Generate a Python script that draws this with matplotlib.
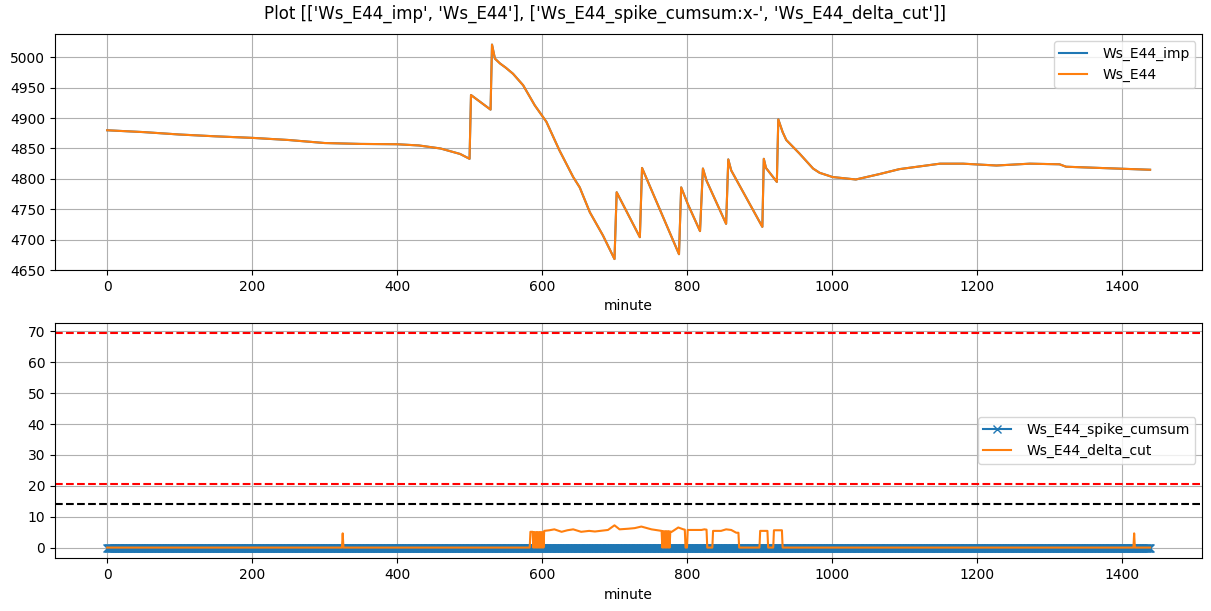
import numpy as np
import matplotlib
matplotlib.use("Agg")
import matplotlib.pyplot as plt

# top panel: Ws_E44 (imp and raw are identical on the plot)
ws_minute = [0, 50, 100, 150, 200, 250, 300, 350, 400, 430, 460, 487, 500,
             502, 529, 531, 535, 542, 550, 560, 574, 590, 606, 624, 643, 652, 666,
             684, 700, 703, 735, 738, 789, 792, 801, 818, 822, 827, 854, 857,
             861, 904, 906, 909, 924, 926, 932, 937, 955, 974, 983, 1001, 1033,
             1066, 1093, 1149, 1181, 1227, 1273, 1314, 1323, 1369, 1439]
ws_e44 = [4880, 4877, 4873, 4870, 4867.5, 4864, 4859, 4857.5, 4857, 4855, 4850,
          4841, 4833, 4938, 4914, 5021, 4998, 4990, 4983, 4973, 4954, 4921, 4894,
          4847, 4803, 4786, 4745, 4707, 4668, 4778, 4704, 4818, 4676, 4786,
          4759, 4714, 4817, 4797, 4726, 4832, 4814, 4721, 4833, 4818, 4795,
          4898, 4877, 4864, 4842, 4817, 4810, 4803, 4799, 4808, 4816, 4825,
          4825, 4822, 4825, 4824, 4820, 4818, 4815]
ws_e44_imp = list(ws_e44)

# bottom panel
minutes = np.arange(1440)
spike_cumsum = np.zeros(len(minutes))

dc_minute = [0, 324, 325, 326,
             583, 584, 587,
             588, 589, 590, 591, 592, 593, 594, 595, 596, 597, 598, 599, 600,
             601, 602, 603, 610, 617, 627, 635, 643, 654, 665, 673, 691, 700,
             707, 719, 728, 737, 751, 765,
             766, 767, 768, 769, 770, 771, 772, 773, 774, 775, 776, 777,
             779, 788, 795, 797, 798, 800, 801, 820, 824, 827, 828, 835, 836,
             847, 854, 861, 868, 871, 872, 900, 901, 911, 912, 919, 920, 931,
             932, 1416, 1417, 1418, 1439]
dc_value = [0, 0, 4.6, 0,
            0, 5.1, 5.1,
            0, 5.0, 0, 5.0, 0, 5.0, 0, 5.0, 0, 5.0, 0, 5.0, 0,
            5.0, 0, 5.4, 5.6, 5.9, 5.1, 5.6, 5.9, 5.1, 5.4, 5.2, 5.7, 7.2,
            5.9, 6.1, 6.3, 6.8, 5.9, 5.4,
            0, 5.3, 0, 5.3, 0, 5.3, 0, 5.3, 0, 5.3, 0, 5.2,
            5.1, 6.5, 5.9, 5.8, 0, 0, 5.7, 5.7, 5.9, 5.8, 0, 0, 5.4,
            5.4, 5.9, 5.7, 4.8, 4.8, 0, 0, 5.4, 5.4, 0, 0, 5.6, 5.6,
            0, 0, 4.6, 0, 0]

red_levels = [69.35, 20.7]
black_level = 14.0

fig, axes = plt.subplots(2, 1, figsize=(12.11, 6.11), dpi=100)
fig.suptitle("Plot [['Ws_E44_imp', 'Ws_E44'], ['Ws_E44_spike_cumsum:x-', 'Ws_E44_delta_cut']]",
             y=0.993, va="top")
axes[0].set_position([0.0454, 0.5581, 0.9474, 0.3858])
axes[1].set_position([0.0454, 0.0863, 0.9474, 0.3856])

ax = axes[0]
ax.plot(ws_minute, ws_e44_imp, label="Ws_E44_imp")
ax.plot(ws_minute, ws_e44, label="Ws_E44")
ax.set_xlim(-72, 1511)
ax.set_ylim(4650, 5038)
ax.set_xlabel("minute")
ax.grid(True)
ax.legend(loc="upper right", handletextpad=1.1)

ax = axes[1]
ax.plot(minutes, spike_cumsum, "x-", label="Ws_E44_spike_cumsum")
ax.plot(dc_minute, dc_value, label="Ws_E44_delta_cut")
for lvl in red_levels:
    ax.axhline(lvl, color="r", linestyle="--")
ax.axhline(black_level, color="k", linestyle="--")
ax.set_xlim(-72, 1511)
ax.set_xlabel("minute")
ax.grid(True)
ax.legend(loc="center right", handletextpad=1.1)

fig.savefig("out.png")
